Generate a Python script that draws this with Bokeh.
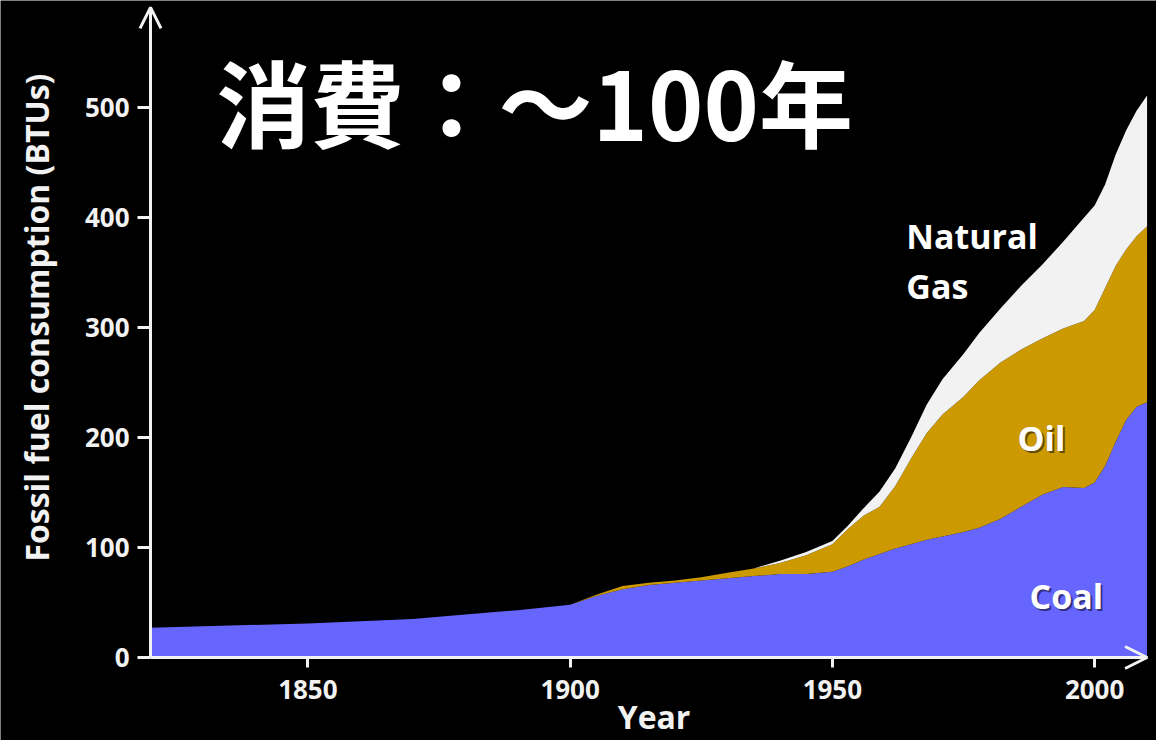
import math
from bokeh.plotting import figure
from bokeh.models import Range1d, Label, Arrow, OpenHead, FixedTicker, ColumnDataSource
from bokeh.embed import file_html
from bokeh.resources import INLINE

# ---- data ----
years = [1820, 1850, 1870, 1880, 1890, 1900, 1905, 1910, 1915, 1920, 1925, 1930,
         1935, 1940, 1945, 1950, 1953, 1956, 1959, 1962, 1965, 1968, 1971, 1975,
         1978, 1982, 1986, 1990, 1994, 1998, 2000, 2002, 2004, 2006, 2008, 2010]
coal = [27, 31, 35, 39, 43, 48, 56, 62, 66, 68, 70, 72,
        74, 76, 76, 78, 83, 89, 94, 99, 103, 107, 110, 114,
        118, 126, 137, 148, 155, 154, 159, 174, 196, 216, 228, 232]
oil = [0, 0, 0, 0, 0, 0, 1, 3, 2, 2, 3, 5,
       7, 10, 17, 25, 34, 40, 43, 57, 78, 97, 111, 123,
       134, 142, 143, 142, 144, 152, 157, 162, 160, 155, 155, 160]
gas = [0, 0, 0, 0, 0, 0, 0, 0, 0, 0, 0, 0,
       0, 2, 3, 3, 3, 7, 14, 16, 19, 26, 32, 39,
       43, 49, 58, 67, 79, 94, 95, 94, 101, 108, 114, 119]
series = ["coal", "oil", "gas"]
series_colors = ["#6666ff", "#cc9900", "#f2f2f2"]
x_ticks = [1850, 1900, 1950, 2000]
y_ticks = [0, 100, 200, 300, 400, 500]
title_text = "消費：～100年"
y_title = "Fossil fuel consumption (BTUs)"
x_title = "Year"

AX = "#f2f2f2"
FONT = "Open Sans"

# the frame covers the whole canvas; axes sit at fixed data locations
p = figure(width=1156, height=740, output_backend="svg", toolbar_location=None,
           x_range=Range1d(1791.4, 2011.8), y_range=Range1d(-75.45, 597.27),
           min_border_left=0, min_border_right=0, min_border_top=0,
           min_border_bottom=0,
           background_fill_color="black", border_fill_color="black",
           outline_line_color=None)
p.grid.visible = False

src = ColumnDataSource(dict(year=years, coal=coal, oil=oil, gas=gas))
p.varea_stack(series, x="year", color=series_colors, source=src)

for ax in (p.xaxis, p.yaxis):
    ax.axis_line_color = AX
    ax.axis_line_width = 3
    ax.major_tick_line_color = AX
    ax.major_tick_line_width = 3
    ax.major_tick_in = 0
    ax.minor_tick_line_color = None
    ax.major_label_text_color = AX
    ax.major_label_text_font = FONT
    ax.major_label_text_font_style = "bold"
    ax.major_label_text_font_size = "26px"
p.xaxis.ticker = FixedTicker(ticks=x_ticks)
p.yaxis.ticker = FixedTicker(ticks=y_ticks)
p.xaxis.fixed_location = 0
p.yaxis.fixed_location = 1820
p.xaxis.bounds = (1820, 2010)
p.yaxis.bounds = (0, 591)
p.xaxis.major_tick_out = 10
p.yaxis.major_tick_out = 13
p.xaxis.major_label_standoff = 12
p.yaxis.major_label_standoff = 8

# arrow heads on the axes
p.add_layout(Arrow(end=OpenHead(size=21, line_color=AX, line_width=3),
                   x_start=1820, y_start=500, x_end=1820, y_end=591,
                   line_color=AX, line_width=3))
p.add_layout(Arrow(end=OpenHead(size=22, line_color=AX, line_width=3),
                   x_start=1990, y_start=0, x_end=2010, y_end=0,
                   line_color=AX, line_width=3))

# axis titles
p.add_layout(Label(x=1798.3, y=309, text=y_title, angle=math.pi / 2,
                   text_align="center", text_baseline="middle",
                   text_color=AX, text_font=FONT, text_font_style="bold",
                   text_font_size="32px"))
p.add_layout(Label(x=1916, y=-73, text=x_title,
                   text_align="center", text_baseline="bottom",
                   text_color=AX, text_font=FONT, text_font_style="bold",
                   text_font_size="32px"))

# big title
p.add_layout(Label(x=1832.6, y=507, text=title_text,
                   text_align="left", text_baseline="middle",
                   text_color="white", text_font="Noto Sans CJK JP",
                   text_font_style="bold", text_font_size="94px"))

# series labels (with soft shadow)
def series_label(x, y, text):
    p.add_layout(Label(x=x, y=y, text=text, x_offset=2, y_offset=-2,
                       text_color="black", text_alpha=0.5, text_font=FONT,
                       text_font_style="bold", text_font_size="34px"))
    p.add_layout(Label(x=x, y=y, text=text,
                       text_color="white", text_font=FONT,
                       text_font_style="bold", text_font_size="34px"))

series_label(1964.1, 362.7, "Natural")
series_label(1964.1, 317.2, "Gas")
series_label(1985.3, 178.2, "Oil")
series_label(1987.6, 35.4, "Coal")

open("out.html", "w").write(file_html(p, INLINE))
